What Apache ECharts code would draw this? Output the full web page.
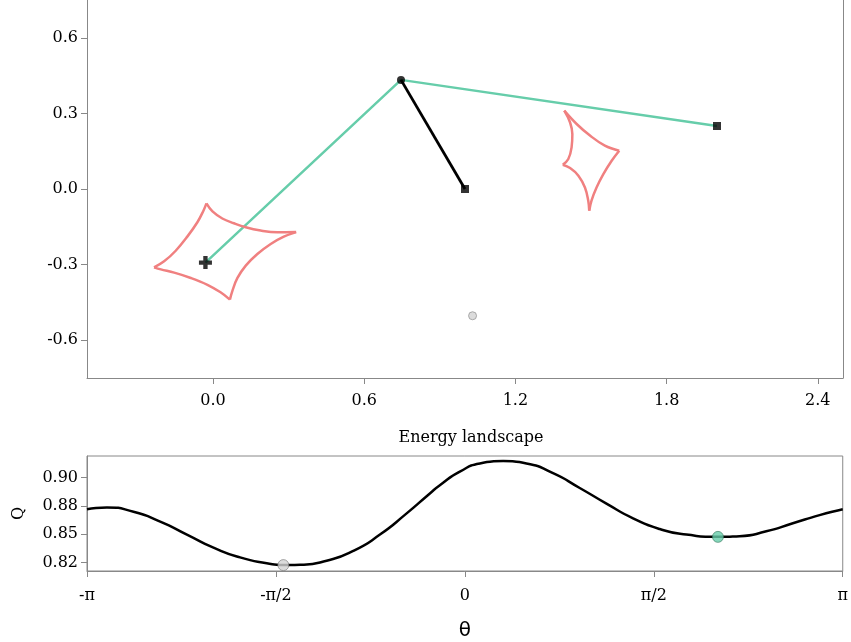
<!DOCTYPE html>
<html>
<head>
<meta charset="utf-8">
<script src="https://cdn.jsdelivr.net/npm/echarts@6/dist/echarts.min.js"></script>
<style>
  html, body { margin: 0; padding: 0; background: #fff; }
  #root { width: 851px; height: 642px; }
</style>
</head>
<body>
<div id="root"></div>
<script>
// points of the linkage (top panel)
var crossPt = [-0.03, -0.292];
var jointPt = [0.746, 0.433];
var endPtA = [1.0, 0.0];
var endPtB = [2.0, 0.25];
var grayPt = [1.03, -0.503];
var greenPath = [crossPt, jointPt, endPtB];
var blackPath = [jointPt, endPtA];

// caustic curves, one array per edge (cusp to cusp)
var causticA = [
  [[-0.026, -0.057], [-0.002, -0.089], [0.037, -0.117], [0.083, -0.136], [0.130, -0.152], [0.189, -0.165], [0.255, -0.172], [0.330, -0.171]],
  [[0.330, -0.171], [0.281, -0.189], [0.229, -0.218], [0.176, -0.258], [0.130, -0.304], [0.097, -0.353], [0.077, -0.404], [0.067, -0.439]],
  [[0.067, -0.439], [0.030, -0.410], [-0.022, -0.380], [-0.088, -0.353], [-0.154, -0.332], [-0.207, -0.319], [-0.234, -0.311]],
  [[-0.234, -0.311], [-0.194, -0.287], [-0.148, -0.245], [-0.102, -0.189], [-0.062, -0.132], [-0.038, -0.086], [-0.026, -0.057]]
];
var causticB = [
  [[1.394, 0.311], [1.443, 0.258], [1.496, 0.212], [1.555, 0.172], [1.612, 0.152]],
  [[1.612, 0.152], [1.582, 0.112], [1.549, 0.059], [1.522, 0.006], [1.502, -0.046], [1.493, -0.086]],
  [[1.493, -0.086], [1.489, -0.046], [1.476, 0.006], [1.450, 0.053], [1.417, 0.083], [1.388, 0.096]],
  [[1.388, 0.096], [1.410, 0.119], [1.423, 0.165], [1.426, 0.218], [1.417, 0.264], [1.394, 0.311]]
];
var topXTicks = [0, 0.6, 1.2, 1.8, 2.4];
var topYTicks = [-0.6, -0.3, 0, 0.3, 0.6];

// energy landscape (bottom panel)
var thetaVals = [-3.1416, -2.976, -2.755, -2.533, -2.311, -2.090, -1.869, -1.647, -1.509, -1.370,
  -1.149, -0.928, -0.706, -0.484, -0.291, -0.208, -0.042, 0.125, 0.318, 0.512,
  0.733, 0.955, 1.177, 1.398, 1.620, 1.841, 2.104, 2.284, 2.506, 2.727, 2.949, 3.1416];
var qVals = [0.8721, 0.8735, 0.8698, 0.8612, 0.8497, 0.8382, 0.8296, 0.8244, 0.8228, 0.8231,
  0.8267, 0.8353, 0.8497, 0.8684, 0.8860, 0.8932, 0.9052, 0.9124, 0.9147, 0.9124,
  0.9038, 0.8908, 0.8770, 0.8641, 0.8546, 0.8497, 0.8477, 0.8483, 0.8526, 0.8597, 0.8669, 0.8721];
var grayMin = [-1.509, 0.8228];
var greenMin = [2.104, 0.8477];
var thetaTicks = [-Math.PI, -Math.PI / 2, 0, Math.PI / 2, Math.PI];
var thetaLabels = ['-π', '-π/2', '0', 'π/2', 'π'];
var qTicks = [0.825, 0.85, 0.875, 0.9];
var qLabels = ['0.82', '0.85', '0.88', '0.90'];

var GREEN = '#66cdaa';
var RED = '#f08080';
var AXIS = '#888888';
var serif = 'DejaVu Serif';

var chart = echarts.init(document.getElementById('root'), null, { renderer: 'canvas' });

var labelStyle = { color: '#000', fontFamily: serif, fontSize: 16 };
function fmt1(v) { return Number(v).toFixed(1); }
function pick(ticks, labels) {
  return function (v) {
    var i = ticks.findIndex(function (t) { return Math.abs(t - v) < 1e-6; });
    return i >= 0 ? labels[i] : '';
  };
}

var series = [];
series.push({
  type: 'line', xAxisIndex: 0, yAxisIndex: 0, data: greenPath,
  showSymbol: false, lineStyle: { color: GREEN, width: 2.5 }, z: 2
});
series.push({
  type: 'line', xAxisIndex: 0, yAxisIndex: 0, data: blackPath,
  showSymbol: false, lineStyle: { color: '#000', width: 2.8 }, z: 3
});
causticA.concat(causticB).forEach(function (edge) {
  series.push({
    type: 'line', xAxisIndex: 0, yAxisIndex: 0, data: edge, smooth: 0.4,
    showSymbol: false, lineStyle: { color: RED, width: 2.5 }, z: 2
  });
});
series.push({
  type: 'scatter', xAxisIndex: 0, yAxisIndex: 0, data: [crossPt],
  symbol: 'path://M-1,-3H1V-1H3V1H1V3H-1V1H-3V-1H-1Z', symbolSize: 13,
  itemStyle: { color: '#000' }, z: 5
});
series.push({
  type: 'scatter', xAxisIndex: 0, yAxisIndex: 0, data: [jointPt],
  symbol: 'circle', symbolSize: 8, itemStyle: { color: '#000' }, z: 5
});
series.push({
  type: 'scatter', xAxisIndex: 0, yAxisIndex: 0, data: [endPtA, endPtB],
  symbol: 'rect', symbolSize: 8, itemStyle: { color: '#000' }, z: 5
});
series.push({
  type: 'scatter', xAxisIndex: 0, yAxisIndex: 0, data: [grayPt],
  symbol: 'circle', symbolSize: 8,
  itemStyle: { color: '#d3d3d3', borderColor: '#999', borderWidth: 1 }, z: 5
});

// bottom panel
series.push({
  type: 'line', xAxisIndex: 1, yAxisIndex: 1,
  data: thetaVals.map(function (t, i) { return [t, qVals[i]]; }),
  smooth: 0.6, showSymbol: false, lineStyle: { color: '#000', width: 2.5 }, z: 2
});
series.push({
  type: 'scatter', xAxisIndex: 1, yAxisIndex: 1, data: [grayMin],
  symbol: 'circle', symbolSize: 11,
  itemStyle: { color: '#d3d3d3', borderColor: '#777', borderWidth: 0.8 }, z: 5
});
series.push({
  type: 'scatter', xAxisIndex: 1, yAxisIndex: 1, data: [greenMin],
  symbol: 'circle', symbolSize: 11,
  itemStyle: { color: GREEN, borderColor: '#3a7a60', borderWidth: 0.8 }, z: 5
});

var option = {
  animation: false,
  backgroundColor: '#fff',
  title: {
    text: 'Energy landscape',
    left: 466, top: 425, textAlign: 'center',
    textStyle: { fontFamily: serif, fontSize: 16, fontWeight: 'normal', color: '#000' }
  },
  grid: [
    { left: 87, top: 0, width: 756, height: 378 },
    { left: 87, top: 456, width: 756, height: 118, show: true, borderColor: AXIS, borderWidth: 1 }
  ],
  xAxis: [
    {
      type: 'value', gridIndex: 0, min: -0.5, max: 2.5,
      axisLine: { show: true, onZero: false, lineStyle: { color: AXIS } },
      axisTick: { show: true, length: 6, customValues: topXTicks, lineStyle: { color: AXIS } },
      axisLabel: Object.assign({ customValues: topXTicks, formatter: fmt1, margin: 15 }, labelStyle),
      splitLine: { show: false }
    },
    {
      type: 'value', gridIndex: 1, min: -Math.PI, max: Math.PI,
      name: 'θ', nameLocation: 'middle', nameGap: 50,
      nameTextStyle: { fontFamily: 'DejaVu Sans', fontSize: 20, color: '#000' },
      axisLine: { show: true, onZero: false, lineStyle: { color: AXIS } },
      axisTick: { show: true, length: 6, customValues: thetaTicks, lineStyle: { color: AXIS } },
      axisLabel: Object.assign({ customValues: thetaTicks, margin: 17, formatter: pick(thetaTicks, thetaLabels) }, labelStyle),
      splitLine: { show: false }
    }
  ],
  yAxis: [
    {
      type: 'value', gridIndex: 0, min: -0.75, max: 0.75,
      axisLine: { show: true, onZero: false, lineStyle: { color: AXIS } },
      axisTick: { show: true, length: 6, customValues: topYTicks, lineStyle: { color: AXIS } },
      axisLabel: Object.assign({ customValues: topYTicks, formatter: fmt1, margin: 9 }, labelStyle),
      splitLine: { show: false }
    },
    {
      type: 'value', gridIndex: 1, min: 0.8176, max: 0.919,
      name: 'Q', nameLocation: 'middle', nameGap: 60,
      nameTextStyle: { fontFamily: serif, fontSize: 16, color: '#000' },
      axisLine: { show: true, onZero: false, lineStyle: { color: AXIS } },
      axisTick: { show: true, length: 6, customValues: qTicks, lineStyle: { color: AXIS } },
      axisLabel: Object.assign({ customValues: qTicks, margin: 9, formatter: pick(qTicks, qLabels) }, labelStyle),
      splitLine: { show: false }
    },
    {
      // right edge of the top panel
      type: 'value', gridIndex: 0, position: 'right', min: -0.75, max: 0.75,
      axisLine: { show: true, onZero: false, lineStyle: { color: AXIS } },
      axisTick: { show: false }, axisLabel: { show: false }, splitLine: { show: false }
    }
  ],
  series: series
};

chart.setOption(option);
window.addEventListener('resize', chart.resize);
</script>
</body>
</html>
